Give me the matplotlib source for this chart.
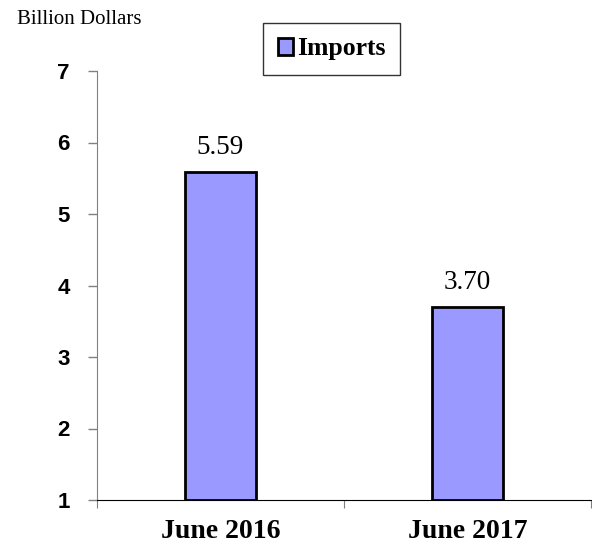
import matplotlib
matplotlib.use("Agg")
import matplotlib.pyplot as plt
from matplotlib.patches import Patch

# Données
categories = ["June 2016", "June 2017"]
imports = [5.59, 3.70]
yticks = [1, 2, 3, 4, 5, 6, 7]

fig = plt.figure(figsize=(5.92, 5.46), dpi=100)
ax = fig.add_axes([97 / 592, 46 / 546, 494 / 592, 429 / 546])

x = list(range(len(categories)))
ax.bar(x, [v - 1 for v in imports], bottom=1, width=0.29,
       color="#9999FF", edgecolor="black", linewidth=2, zorder=3)

for xi, v in zip(x, imports):
    ax.text(xi, v + 0.17, f"{v:.2f}", ha="center", va="bottom",
            family="Liberation Serif", fontsize=19.5)

ax.set_xlim(-0.5, 1.5)
ax.set_ylim(1, 7)
ax.set_yticks(yticks)
ax.set_yticklabels([str(t) for t in yticks], family="Liberation Sans",
                   fontweight="bold", fontsize=16)
ax.tick_params(axis="y", direction="out", length=6.5, width=1, color="#808080", pad=13)

# ticks de l'axe x entre les catégories
ax.set_xticks([-0.5, 0.5, 1.5])
ax.set_xticklabels([])
ax.set_xticks(x, minor=True)
ax.set_xticklabels(categories, minor=True, family="Liberation Serif",
                   fontweight="bold", fontsize=20)
ax.tick_params(axis="x", which="major", direction="out", length=6, color="#808080")
ax.tick_params(axis="x", which="minor", length=0, pad=14)

for s in ["top", "right"]:
    ax.spines[s].set_visible(False)
ax.spines["left"].set_color("#808080")
ax.spines["bottom"].set_color("black")

fig.text(17 / 592, 1 - 19 / 546, "Billion Dollars", family="Liberation Serif",
         fontsize=15, va="center", ha="left")

handle = Patch(facecolor="#9999FF", edgecolor="black", linewidth=2)
leg = fig.legend([handle], ["Imports"], loc="center",
                 bbox_to_anchor=(331.5 / 592, 1 - 49 / 546),
                 prop={"family": "Liberation Serif", "weight": "bold", "size": 18.5},
                 frameon=True, fancybox=False, edgecolor="black",
                 handlelength=0.6, handleheight=0.6, handletextpad=0.15,
                 borderpad=0.55, borderaxespad=0)
leg.get_frame().set_linewidth(1)

fig.savefig("out.png", dpi=100)
